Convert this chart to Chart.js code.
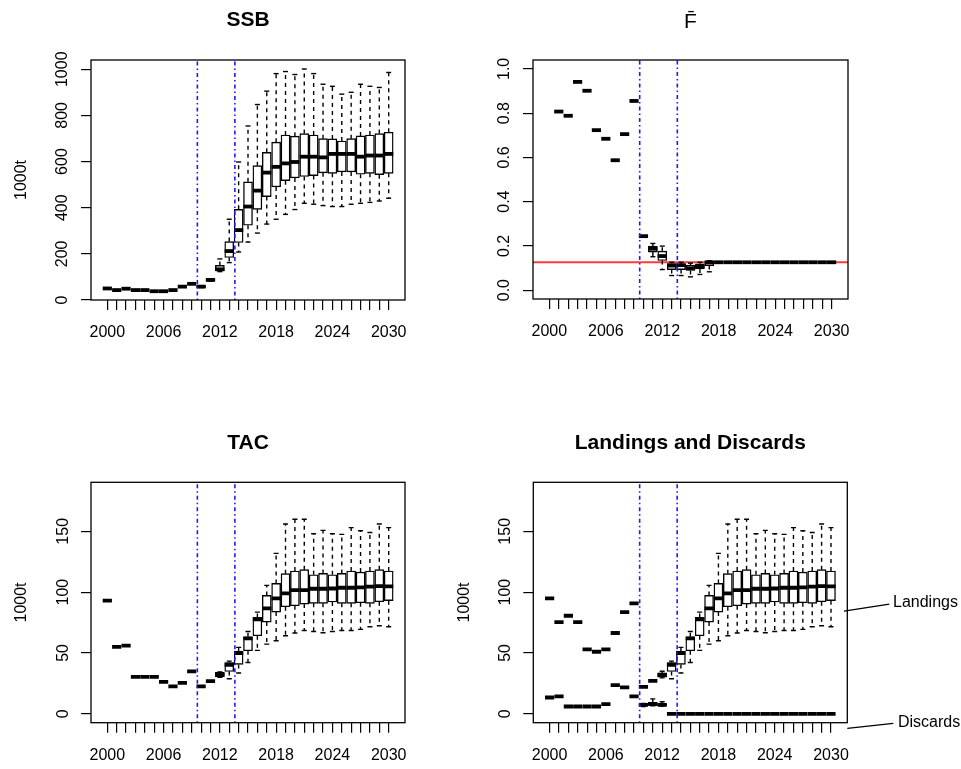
<!DOCTYPE html>
<html>
<head>
<meta charset="utf-8">
<script src="https://cdn.jsdelivr.net/npm/chart.js@4.4.1/dist/chart.umd.min.js"></script>
<style>
  body { margin: 0; background: #fff; }
  #wrap { position: relative; width: 961px; height: 769px; }
  canvas { position: absolute; }
</style>
</head>
<body>
<div id="wrap">
  <canvas id="ssb" width="440" height="384" style="left:0;top:0"></canvas>
  <canvas id="fbar" width="521" height="384" style="left:440px;top:0"></canvas>
  <canvas id="tac" width="440" height="385" style="left:0;top:384px"></canvas>
  <canvas id="land" width="521" height="385" style="left:440px;top:384px"></canvas>
</div>
<script>
var years = [2000, 2001, 2002, 2003, 2004, 2005, 2006, 2007, 2008, 2009,
             2010, 2011, 2012, 2013, 2014, 2015, 2016, 2017, 2018, 2019,
             2020, 2021, 2022, 2023, 2024, 2025, 2026, 2027, 2028, 2029, 2030];
var vLines = [2009.6, 2013.6];

// SSB, 1000t
var ssbMed = [50, 43, 49, 43, 43, 38, 38, 43, 58, 70, 58, 87, 133, 212, 303, 405, 474, 552, 577, 592, 598, 621, 621, 618, 633, 633, 633, 621, 626, 626, 633];
var ssbQ1 = [null, null, null, null, null, null, null, null, null, null, 55, 84, 127, 184, 249, 324, 393, 448, 490, 517, 529, 535, 539, 551, 549, 555, 555, 545, 549, 543, 549];
var ssbQ3 = [null, null, null, null, null, null, null, null, null, null, 61, 90, 150, 253, 393, 512, 582, 640, 684, 715, 710, 721, 715, 699, 698, 689, 699, 711, 715, 721, 727];
var ssbLo = [null, null, null, null, null, null, null, null, null, null, 54, 82, 123, 162, 208, 251, 290, 329, 350, 371, 392, 419, 415, 409, 405, 405, 415, 419, 423, 429, 441];
var ssbHi = [null, null, null, null, null, null, null, null, null, null, 62, 92, 178, 350, 598, 754, 847, 905, 981, 990, 977, 1001, 981, 935, 926, 892, 900, 935, 926, 921, 986];

// mean F
var fMed = [null, 0.807, 0.788, 0.941, 0.901, 0.723, 0.684, 0.587, 0.705, 0.855, 0.244, 0.187, 0.154, 0.111, 0.113, 0.099, 0.108, 0.126, 0.126, 0.126, 0.126, 0.126, 0.126, 0.126, 0.126, 0.126, 0.126, 0.126, 0.126, 0.126, 0.126];
var fQ1 = [null, null, null, null, null, null, null, null, null, null, null, 0.172, 0.134, 0.093, 0.093, 0.089, 0.096, 0.111, null, null, null, null, null, null, null, null, null, null, null, null, null];
var fQ3 = [null, null, null, null, null, null, null, null, null, null, null, 0.199, 0.176, 0.120, 0.117, 0.113, 0.119, 0.130, null, null, null, null, null, null, null, null, null, null, null, null, null];
var fLo = [null, null, null, null, null, null, null, null, null, null, null, 0.151, 0.093, 0.066, 0.066, 0.060, 0.071, 0.083, null, null, null, null, null, null, null, null, null, null, null, null, null];
var fHi = [null, null, null, null, null, null, null, null, null, null, null, 0.211, 0.199, 0.126, 0.126, 0.122, 0.126, 0.133, null, null, null, null, null, null, null, null, null, null, null, null, null];
var fTarget = 0.126;

// TAC, 1000t
var tacMed = [93, 55, 56, 30.4, 30.4, 30.4, 26.3, 22.5, 25.5, 34.8, 22.5, 26.9, 32.4, 40.3, 49.9, 62, 77.6, 86.6, 94.9, 99, 101.7, 101.7, 102.8, 102.8, 103, 103.6, 103.6, 103.9, 104.5, 105, 104.7];
var tacQ1 = [null, null, null, null, null, null, null, null, null, null, null, null, 30.4, 34.8, 40.6, 51.8, 64.2, 75.4, 83.6, 88, 88.8, 90.2, 90.8, 90.8, 91.9, 90.8, 90.8, 91.3, 90.8, 92.1, 93];
var tacQ3 = [null, null, null, null, null, null, null, null, null, null, null, null, 34, 42.2, 51.6, 63.3, 79.2, 97.3, 107.2, 115.2, 117.4, 118.5, 114.3, 115.4, 114.3, 115.4, 117.4, 116.5, 117.4, 118.5, 117.4];
var tacLo = [null, null, null, null, null, null, null, null, null, null, null, null, 30, 28.8, 33.5, 42.2, 52.1, 57.3, 60, 64.2, 66.4, 68.5, 67.7, 66.6, 67.7, 68.5, 68.5, 69.4, 71.6, 72.4, 71.6];
var tacHi = [null, null, null, null, null, null, null, null, null, null, null, null, 34.5, 43.3, 54.6, 67.7, 83.6, 105.6, 131.9, 156, 159.9, 159.9, 148, 150.8, 148, 147.5, 153, 150.5, 149, 156, 153];

// landings, 1000t
var landMed = [94.9, 75.4, 80.6, 75.4, 52.9, 51, 52.9, 66.4, 83.6, 90.8, 22.2, 27.1, 32.1, 40.3, 49.9, 62, 77.6, 86.6, 94.9, 99, 101.7, 101.7, 102.8, 102.8, 103, 103.6, 103.6, 103.9, 104.5, 105, 104.7];
var landQ1 = [null, null, null, null, null, null, null, null, null, null, null, null, 30.2, 34.8, 40.6, 51.8, 64.2, 75.4, 83.6, 88, 88.8, 90.2, 90.8, 90.8, 91.9, 90.8, 90.8, 91.3, 90.8, 92.1, 93];
var landQ3 = [null, null, null, null, null, null, null, null, null, null, null, null, 33.5, 42.2, 51.6, 63.3, 79.2, 97.3, 107.2, 115.2, 117.4, 118.5, 114.3, 115.4, 114.3, 115.4, 117.4, 116.5, 117.4, 118.5, 117.4];
var landLo = [null, null, null, null, null, null, null, null, null, null, null, null, 29.5, 28.8, 33.5, 42.2, 52.1, 57.3, 60, 64.2, 66.4, 68.5, 67.7, 66.6, 67.7, 68.5, 68.5, 69.4, 71.6, 72.4, 71.6];
var landHi = [null, null, null, null, null, null, null, null, null, null, null, null, 35, 43.3, 54.6, 67.7, 83.6, 105.6, 131.9, 156, 159.9, 159.9, 148, 150.8, 148, 147.5, 153, 150.5, 149, 156, 153];

// discards, 1000t
var discMed = [13.4, 14.3, 6, 6, 6, 6, 8, 23.6, 21.7, 14.3, 7.4, 8, 7.4, 0, 0, 0, 0, 0, 0, 0, 0, 0, 0, 0, 0, 0, 0, 0, 0, 0, 0];
var discQ1 = [null, null, null, null, null, null, null, null, null, null, 6.6, 7.0, 6.8, null, null, null, null, null, null, null, null, null, null, null, null, null, null, null, null, null, null];
var discQ3 = [null, null, null, null, null, null, null, null, null, null, 8.0, 9.5, 8.2, null, null, null, null, null, null, null, null, null, null, null, null, null, null, null, null, null, null];
var discLo = [null, null, null, null, null, null, null, null, null, null, 6.0, 6.5, 6.3, null, null, null, null, null, null, null, null, null, null, null, null, null, null, null, null, null, null];
var discHi = [null, null, null, null, null, null, null, null, null, null, 8.6, 12.3, 9.9, null, null, null, null, null, null, null, null, null, null, null, null, null, null, null, null, null, null];

var xMin = 1998.26, xMax = 2031.74;

Chart.defaults.font.family = "'Liberation Sans', Arial, sans-serif";
Chart.defaults.font.size = 16;
Chart.defaults.color = '#000';

// whiskers, box, caps and median for one boxplot series
function boxSets(med, q1, q3, lo, hi) {
  var boxes = [], mids = [], caps = [], whisk = [];
  for (var i = 0; i < years.length; i++) {
    if (med[i] === null) continue;
    mids.push({x: years[i], y: med[i]});
    if (q1[i] === null) continue;
    boxes.push({x: years[i], y: [q1[i], q3[i]]});
    whisk.push({x: years[i], y: q3[i]}, {x: years[i], y: hi[i]}, {x: years[i], y: null});
    whisk.push({x: years[i], y: q1[i]}, {x: years[i], y: lo[i]}, {x: years[i], y: null});
    caps.push({x: years[i], y: hi[i]}, {x: years[i], y: lo[i]});
  }
  return [
    {type: 'line', data: whisk, borderColor: '#000', borderWidth: 1.4, borderDash: [4, 4],
     pointRadius: 0, spanGaps: false, order: 4},
    {type: 'bar', data: boxes, backgroundColor: '#fff', borderColor: '#000', borderWidth: 1.4,
     borderSkipped: false, barThickness: 9, grouped: false, order: 3},
    {type: 'line', data: caps, showLine: false, pointStyle: 'line', pointRadius: 2.5,
     pointBorderColor: '#000', pointBorderWidth: 1.4, order: 2},
    {type: 'line', data: mids, showLine: false, pointStyle: 'line', pointRadius: 4.6,
     pointBorderColor: '#000', pointBorderWidth: 3.8, order: 1}
  ];
}

function vLineSet(yMin, yMax) {
  var pts = [];
  vLines.forEach(function (v) {
    pts.push({x: v, y: yMin}, {x: v, y: yMax}, {x: v, y: null});
  });
  return {type: 'line', data: pts, borderColor: '#1a1aff', borderWidth: 1.6,
          borderDash: [1.5, 3, 4, 3], pointRadius: 0, spanGaps: false, order: 0};
}

var frame = {
  id: 'frame',
  afterDatasetsDraw: function (chart) {
    var a = chart.chartArea, ctx = chart.ctx;
    ctx.save();
    ctx.strokeStyle = '#000';
    ctx.lineWidth = 1.3;
    ctx.strokeRect(a.left, a.top, a.right - a.left, a.bottom - a.top);
    ctx.restore();
  }
};

var sideNotes = [
  {text: 'Landings', from: 84.4, to: 90.2, x0: -3.3, x1: 42, tx: 45.7},
  {text: 'Discards', from: -12.0, to: -7.9, x0: 0, x1: 46, tx: 50.7}
];
var notes = {
  id: 'notes',
  afterDraw: function (chart) {
    var ctx = chart.ctx, y = chart.scales.y, r = chart.chartArea.right;
    ctx.save();
    ctx.strokeStyle = '#000';
    ctx.fillStyle = '#000';
    ctx.lineWidth = 1.3;
    ctx.font = "16px 'Liberation Sans', Arial, sans-serif";
    ctx.textBaseline = 'middle';
    sideNotes.forEach(function (n) {
      ctx.beginPath();
      ctx.moveTo(r + n.x0, y.getPixelForValue(n.from));
      ctx.lineTo(r + n.x1, y.getPixelForValue(n.to));
      ctx.stroke();
      ctx.fillText(n.text, r + n.tx, y.getPixelForValue(n.to) - 1);
    });
    ctx.restore();
  }
};

function panel(id, o) {
  var ds = [];
  o.series.forEach(function (s) { ds = ds.concat(boxSets.apply(null, s)); });
  ds.push(vLineSet(o.yMin, o.yMax));
  if (o.extra) ds = ds.concat(o.extra);
  return new Chart(document.getElementById(id), {
    type: 'bar',
    data: {datasets: ds},
    options: {
      responsive: false,
      animation: false,
      events: [],
      layout: {padding: {top: 0, left: 0, right: o.padRight, bottom: 0}},
      plugins: {
        legend: {display: false},
        tooltip: {enabled: false},
        title: {display: true, text: o.title, fullSize: false, color: '#000',
                font: {size: 21, weight: o.titleWeight, lineHeight: 1.2}, padding: o.titlePad}
      },
      scales: {
        x: {
          type: 'linear', min: xMin, max: xMax, offset: false,
          grid: {drawOnChartArea: false, offset: false, tickLength: 10, color: '#000', lineWidth: 1.2},
          border: {display: false},
          afterBuildTicks: function (s) { s.ticks = years.map(function (v) { return {value: v}; }); },
          afterFit: function (s) { s.height = o.xAxisH; },
          ticks: {autoSkip: false, maxRotation: 0, padding: 13.4,
                  callback: function (v) { return (v - 2000) % 6 === 0 ? String(v) : ''; }}
        },
        y: {
          type: 'linear', min: o.yMin, max: o.yMax,
          grid: {drawOnChartArea: false, tickLength: 10, color: '#000', lineWidth: 1.2},
          border: {display: false},
          afterBuildTicks: function (s) { s.ticks = o.yTicks.map(function (v) { return {value: v}; }); },
          afterFit: function (s) { s.width = o.yAxisW; },
          title: {display: !!o.yTitle, text: o.yTitle, color: '#000',
                  padding: {top: o.yTitlePad, bottom: 0}, font: {size: 16, lineHeight: 1.2}},
          ticks: {minRotation: 90, maxRotation: 90, crossAlign: 'center', padding: o.yTickPad,
                  callback: o.yFmt}
        }
      }
    },
    plugins: [frame].concat(o.plugins || [])
  });
}

panel('ssb', {
  title: 'SSB', titleWeight: 'bold', titlePad: {top: 7.8, bottom: 27},
  series: [[ssbMed, ssbQ1, ssbQ3, ssbLo, ssbHi]],
  yMin: 0, yMax: 1040, yTicks: [0, 200, 400, 600, 800, 1000],
  yFmt: function (v) { return String(v); },
  yTitle: '1000t', yTitlePad: 11.9, yTickPad: 0.5,
  yAxisW: 91, xAxisH: 84, padRight: 35
});

panel('fbar', {
  title: 'F\u0304', titleWeight: 'normal', titlePad: {top: 9.4, bottom: 25.4},
  series: [[fMed, fQ1, fQ3, fLo, fHi]],
  yMin: -0.04, yMax: 1.04, yTicks: [0, 0.2, 0.4, 0.6, 0.8, 1.0],
  yFmt: function (v) { return v.toFixed(1); },
  yTitle: '', yTitlePad: 0, yTickPad: 6.9,
  yAxisW: 93, xAxisH: 85, padRight: 113,
  extra: [{type: 'line', data: [{x: xMin, y: fTarget}, {x: xMax, y: fTarget}],
           borderColor: '#ff3a3a', borderWidth: 2, pointRadius: 0, order: 6}]
});

panel('tac', {
  title: 'TAC', titleWeight: 'bold', titlePad: {top: 46.4, bottom: 26.7},
  series: [[tacMed, tacQ1, tacQ3, tacLo, tacHi]],
  yMin: -7.32, yMax: 190.3, yTicks: [0, 50, 100, 150],
  yFmt: function (v) { return String(v); },
  yTitle: '1000t', yTitlePad: 11.9, yTickPad: 4.2,
  yAxisW: 91, xAxisH: 46.3, padRight: 35
});

panel('land', {
  title: 'Landings and Discards', titleWeight: 'bold', titlePad: {top: 46.4, bottom: 26.7},
  series: [[landMed, landQ1, landQ3, landLo, landHi], [discMed, discQ1, discQ3, discLo, discHi]],
  yMin: -7.32, yMax: 190.3, yTicks: [0, 50, 100, 150],
  yFmt: function (v) { return String(v); },
  yTitle: '1000t', yTitlePad: 15.4, yTickPad: 4.7,
  yAxisW: 93.3, xAxisH: 46.3, padRight: 113.7,
  plugins: [notes]
});
</script>
</body>
</html>
